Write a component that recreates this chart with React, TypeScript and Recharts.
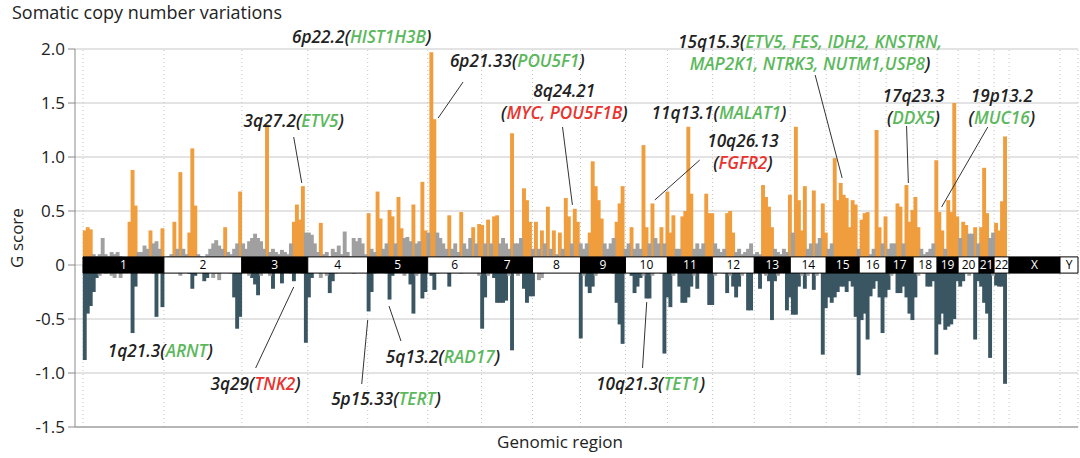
import React from 'react';
import {
  ComposedChart,
  Bar,
  XAxis,
  YAxis,
  CartesianGrid,
  ReferenceArea,
  ReferenceLine,
  ReferenceDot,
} from 'recharts';

// chromosomes and how many bins each one takes along the genomic axis
const chromosomes = ['1', '2', '3', '4', '5', '6', '7', '8', '9', '10', '11', '12', '13', '14', '15', '16', '17', '18', '19', '20', '21', '22', 'X', 'Y'];
const binsPerChromosome = [27, 26, 22, 20, 20, 18, 17, 16, 15, 14, 15, 14, 12, 12, 11, 9, 9, 8, 7, 7, 5, 5, 17, 6];

// amplification G scores per chromosome (X and Y have none)
const ampScores = [
  [0.32, 0.35, 0.33, 0.1, 0.08, 0.1, 0.25, 0.1, 0.08, 0.12, 0.1, 0.12, 0.08, 0.06, 0.05, 0.4, 0.88, 0.55, 0.12, 0.12, 0.18, 0.15, 0.32, 0.2, 0.22, 0.15, 0.34],
  [0.05, 0.08, 0.1, 0.4, 0.15, 0.86, 0.15, 0.1, 0.3, 1.08, 0.55, 0.1, 0.08, 0.05, 0.1, 0.15, 0.2, 0.23, 0.18, 0.15, 0.35, 0.12, 0.1, 0.15, 0.2, 0.68],
  [0.2, 0.15, 0.22, 0.25, 0.29, 0.25, 0.22, 0.15, 1.3, 0.12, 0.15, 0.12, 0.1, 0.14, 0.12, 0.1, 0.2, 0.4, 0.56, 0.42, 0.73, 0.3],
  [0.3, 0.28, 0.2, 0.12, 0.39, 0.1, 0.12, 0.08, 0.15, 0.12, 0.18, 0.1, 0.31, 0.12, 0.08, 0.25, 0.22, 0.25, 0.2, 0.1],
  [0.48, 0.15, 0.12, 0.68, 0.43, 0.15, 0.2, 0.51, 0.45, 0.2, 0.63, 0.34, 0.25, 0.26, 0.22, 0.56, 0.2, 0.22, 0.77, 0.32],
  [0.3, 1.97, 1.35, 0.3, 0.25, 0.2, 0.15, 0.46, 0.15, 0.2, 0.12, 0.49, 0.2, 0.15, 0.25, 0.35, 0.2, 0.38],
  [0.37, 0.2, 0.42, 0.2, 0.45, 0.46, 0.2, 0.25, 0.2, 0.15, 1.22, 0.2, 0.2, 0.25, 0.71, 0.6, 0.4],
  [0.15, 0.4, 0.15, 0.32, 0.2, 0.54, 0.15, 0.32, 0.1, 0.3, 0.15, 0.62, 0.45, 0.2, 0.52, 0.4],
  [0.2, 0.15, 0.2, 0.3, 0.96, 0.73, 0.6, 0.43, 0.2, 0.15, 0.2, 0.25, 0.4, 0.57, 0.73],
  [0.15, 0.2, 0.35, 0.15, 0.2, 0.15, 1.11, 0.35, 0.2, 0.57, 0.25, 0.2, 0.35, 0.2],
  [0.68, 0.3, 0.46, 0.15, 0.15, 0.45, 0.5, 1.28, 0.66, 0.15, 0.2, 0.15, 0.2, 0.66, 0.48],
  [0.48, 0.2, 0.15, 0.12, 0.15, 0.48, 0.5, 0.3, 0.12, 0.15, 0.1, 0.12, 0.15, 0.2],
  [0.1, 0.12, 0.1, 0.74, 0.63, 0.54, 0.35, 0.15, 0.12, 0.1, 0.15, 0.12],
  [0.65, 0.3, 1.28, 0.6, 0.32, 0.73, 0.15, 0.2, 0.69, 0.2, 0.25, 0.57],
  [0.3, 0.15, 0.2, 0.99, 0.6, 0.76, 0.65, 0.62, 0.35, 0.6, 0.56],
  [0.15, 0.42, 0.48, 0.49, 0.1, 0.15, 1.25, 0.35, 0.2],
  [0.45, 0.15, 0.2, 0.2, 0.57, 0.54, 0.2, 0.74, 0.4],
  [0.51, 0.63, 0.35, 0.15, 0.1, 0.12, 0.15, 0.2],
  [0.97, 0.49, 0.32, 0.15, 0.6, 0.49, 1.5],
  [0.45, 0.25, 0.4, 0.37, 0.29, 0.29, 0.35],
  [0.2, 0.35, 0.9, 0.48, 0.25],
  [0.3, 0.39, 0.32, 0.59, 1.19],
];

// 1 = significant amplification (orange), 0 = not significant (gray)
const ampSignificant = [
  '111000000000000111000010001',
  '00010100111000000000100001',
  '0000000010000000011110',
  '00001000000000000000',
  '10011001101100010011',
  '011000010001000101',
  '10101100001000111',
  '0101010101011011',
  '000111110000111',
  '00100011010010',
  '111001111000011',
  '10000111000000',
  '000111100000',
  '101111001001',
  '10011111111',
  '011100110',
  '100011011',
  '11100000',
  '1110111',
  '1011001',
  '01110',
  '01111',
];

// deletion G scores per chromosome
const delScores = [
  [-0.88, -0.45, -0.38, -0.25, -0.12, -0.1, -0.05, -0.08, -0.05, -0.1, -0.12, -0.05, -0.12, -0.05, -0.04, -0.05, -0.63, -0.2, -0.05, -0.04, -0.05, -0.06, -0.06, -0.08, -0.48, -0.08, -0.39],
  [-0.04, -0.05, -0.06, -0.05, -0.06, -0.1, -0.06, -0.05, -0.08, -0.22, -0.1, -0.05, -0.05, -0.15, -0.12, -0.05, -0.12, -0.08, -0.14, -0.06, -0.05, -0.06, -0.08, -0.3, -0.59, -0.48],
  [-0.05, -0.06, -0.1, -0.12, -0.18, -0.28, -0.1, -0.05, -0.06, -0.1, -0.22, -0.06, -0.05, -0.17, -0.06, -0.05, -0.08, -0.15, -0.06, -0.05, -0.08, -0.72],
  [-0.3, -0.12, -0.06, -0.05, -0.12, -0.06, -0.1, -0.26, -0.15, -0.08, -0.05, -0.04, -0.06, -0.04, -0.03, -0.08, -0.05, -0.04, -0.05, -0.06],
  [-0.43, -0.25, -0.08, -0.05, -0.06, -0.05, -0.08, -0.32, -0.1, -0.05, -0.06, -0.05, -0.1, -0.06, -0.18, -0.45, -0.1, -0.08, -0.31, -0.25],
  [-0.06, -0.1, -0.23, -0.08, -0.05, -0.04, -0.06, -0.2, -0.05, -0.04, -0.05, -0.08, -0.04, -0.05, -0.06, -0.05, -0.04, -0.1],
  [-0.59, -0.3, -0.1, -0.08, -0.12, -0.35, -0.35, -0.35, -0.33, -0.1, -0.79, -0.08, -0.1, -0.08, -0.22, -0.35, -0.29],
  [-0.29, -0.06, -0.14, -0.12, -0.05, -0.04, -0.05, -0.04, -0.03, -0.05, -0.04, -0.06, -0.05, -0.05, -0.05, -0.04],
  [-0.68, -0.1, -0.2, -0.26, -0.2, -0.1, -0.06, -0.05, -0.04, -0.05, -0.06, -0.08, -0.35, -0.55, -0.73],
  [-0.05, -0.06, -0.1, -0.26, -0.2, -0.12, -0.1, -0.31, -0.31, -0.1, -0.05, -0.06, -0.08, -0.82],
  [-0.3, -0.39, -0.1, -0.06, -0.2, -0.35, -0.35, -0.3, -0.2, -0.1, -0.22, -0.06, -0.05, -0.08, -0.37],
  [-0.37, -0.1, -0.06, -0.05, -0.08, -0.26, -0.1, -0.2, -0.3, -0.2, -0.1, -0.05, -0.42, -0.42],
  [-0.05, -0.06, -0.22, -0.08, -0.1, -0.15, -0.51, -0.15, -0.1, -0.05, -0.06, -0.42],
  [-0.3, -0.46, -0.46, -0.2, -0.1, -0.22, -0.1, -0.06, -0.23, -0.1, -0.06, -0.83],
  [-0.4, -0.3, -0.35, -0.3, -0.25, -0.2, -0.2, -0.25, -0.15, -0.2, -0.48],
  [-1.02, -0.51, -0.45, -0.69, -0.29, -0.22, -0.15, -0.3, -0.63],
  [-0.3, -0.23, -0.1, -0.08, -0.26, -0.26, -0.2, -0.3, -0.45],
  [-0.51, -0.3, -0.1, -0.06, -0.08, -0.2, -0.2, -0.15],
  [-0.83, -0.55, -0.45, -0.6, -0.57, -0.55, -0.5],
  [-0.15, -0.2, -0.15, -0.08, -0.1, -0.06, -0.69],
  [-0.15, -0.2, -0.35, -0.45, -0.86],
  [-0.1, -0.19, -0.2, -0.2, -1.1],
];

// 1 = significant deletion (dark), 0 = not significant (gray)
const delSignificant = [
  '111110000000000111000010101',
  '00000000111001100000000111',
  '0001110000100100010001',
  '11000001100000000000',
  '11000001100000110011',
  '011000010000000000',
  '11001111101000111',
  '1000000000000000',
  '101110000000111',
  '00111101100001',
  '110011111010001',
  '10000101110011',
  '001001110001',
  '111101001001',
  '11111111111',
  '111111111',
  '110011111',
  '11000111',
  '1111111',
  '1110001',
  '11111',
  '01111',
];

const yTicks = [-1.5, -1, -0.5, 0, 0.5, 1, 1.5, 2];

// peak annotations: position in bins / G score, text segments tagged k (black), g (green), r (red)
type Seg = [string, 'k' | 'g' | 'r'];
const annotations: { x: number; y: number; lines: Seg[][] }[] = [
  { x: 93.0, y: 2.056, lines: [[['6p22.2(', 'k'], ['HIST1H3B', 'g'], [')', 'k']]] },
  { x: 144.9, y: 1.833, lines: [[['6p21.33(', 'k'], ['POU5F1', 'g'], [')', 'k']]] },
  { x: 160.6, y: 1.556, lines: [[['8q24.21', 'k']], [['(', 'k'], ['MYC, POU5F1B', 'r'], [')', 'k']]] },
  { x: 212.2, y: 1.352, lines: [[['11q13.1(', 'k'], ['MALAT1', 'g'], [')', 'k']]] },
  { x: 220.2, y: 1.093, lines: [[['10q26.13', 'k']], [['(', 'k'], ['FGFR2', 'r'], [')', 'k']]] },
  { x: 70.3, y: 1.278, lines: [[['3q27.2(', 'k'], ['ETV5', 'g'], [')', 'k']]] },
  { x: 242.6, y: 2.009, lines: [[['15q15.3(', 'k'], ['ETV5, FES, IDH2, KNSTRN,', 'g']], [['MAP2K1, NTRK3, NUTM1,USP8', 'g'], [')', 'k']]] },
  { x: 277.1, y: 1.509, lines: [[['17q23.3', 'k']], [['(', 'k'], ['DDX5', 'g'], [')', 'k']]] },
  { x: 306.6, y: 1.509, lines: [[['19p13.2', 'k']], [['(', 'k'], ['MUC16', 'g'], [')', 'k']]] },
  { x: 25.8, y: -0.852, lines: [[['1q21.3(', 'k'], ['ARNT', 'g'], [')', 'k']]] },
  { x: 57.6, y: -1.157, lines: [[['3q29(', 'k'], ['TNK2', 'r'], [')', 'k']]] },
  { x: 120.1, y: -0.907, lines: [[['5q13.2(', 'k'], ['RAD17', 'g'], [')', 'k']]] },
  { x: 101.1, y: -1.296, lines: [[['5p15.33(', 'k'], ['TERT', 'g'], [')', 'k']]] },
  { x: 189.4, y: -1.157, lines: [[['10q21.3(', 'k'], ['TET1', 'g'], [')', 'k']]] },
];

// leader lines from label to peak: [x1, y1, x2, y2]
const leaders = [
  [126.8, 1.694, 118.5, 1.361],
  [160.0, 1.278, 163.3, 0.556],
  [205.8, 0.972, 190.8, 0.602],
  [70.3, 1.185, 73.0, 0.759],
  [244.3, 1.759, 253.3, 0.806],
  [274.8, 1.287, 275.4, 0.759],
  [301.9, 1.278, 286.5, 0.537],
  [57.6, -0.954, 70.3, -0.204],
  [106.1, -0.704, 102.1, -0.38],
  [93.0, -1.102, 95.0, -0.509],
  [186.7, -0.954, 188.1, -0.343],
];

const FONT = "'Open Sans', 'Noto Sans', sans-serif";
const ORANGE = '#f09d3e';
const GRAY = '#a0a0a0';
const SLATE = '#3a5662';
const segColor = { k: '#222222', g: '#5cb85c', r: '#e8332f' };

const totalBins = binsPerChromosome.reduce((a, b) => a + b, 0);

const starts: number[] = [];
binsPerChromosome.reduce((acc, n) => {
  starts.push(acc);
  return acc + n;
}, 0);

const rows: any[] = [];
chromosomes.forEach((c, ci) => {
  for (let k = 0; k < binsPerChromosome[ci]; k++) {
    const amp = ampScores[ci]?.[k] ?? 0;
    const del = delScores[ci]?.[k] ?? 0;
    const ampSig = ampSignificant[ci]?.[k] === '1';
    const delSig = delSignificant[ci]?.[k] === '1';
    rows.push({
      bin: rows.length,
      ampSig: ampSig ? amp : 0,
      ampNS: ampSig ? 0 : amp,
      delSig: delSig ? del : 0,
      delNS: delSig ? 0 : del,
    });
  }
});

const boundaries = [...starts, totalBins];

// bars a bit wider than the integer size recharts gives, so neighbours sit close like the original
const WideBar = (p: any) => {
  const { x, y, width, height, fill } = p;
  if (!height || !width) return null;
  const top = height < 0 ? y + height : y;
  return <rect x={x - 0.2} y={top} width={width + 0.9} height={Math.abs(height)} fill={fill} />;
};

function AnnotationLabel(props: any) {
  const { viewBox, lines } = props;
  if (!viewBox) return null;
  const x = viewBox.x + (viewBox.width || 0) / 2;
  const y = viewBox.y + (viewBox.height || 0) / 2;
  return (
    <g>
      {lines.map((line: Seg[], i: number) => (
        <text
          key={i}
          x={x}
          y={y + i * 22}
          textAnchor="middle"
          fontFamily={FONT}
          fontSize={17.2}
          fontStyle="italic"
          fontWeight={600}
        >
          {line.map(([t, c], j) => (
            <tspan key={j} fill={segColor[c]}>
              {t}
            </tspan>
          ))}
        </text>
      ))}
    </g>
  );
}

const fmt = (v: number) => (v === 0 ? '0' : v.toFixed(1));

const App: React.FC = () => {
  return (
    <div style={{ position: 'absolute', left: 0, top: 0, width: 1080, height: 458, background: '#fff', fontFamily: FONT }}>
      <div style={{ position: 'absolute', left: 12, top: 0, fontSize: 18, lineHeight: '24px', color: '#222' }}>
        Somatic copy number variations
      </div>
      <div
        style={{
          position: 'absolute',
          left: 16,
          top: 238,
          fontSize: 17,
          color: '#222',
          transform: 'translate(-50%, -50%) rotate(-90deg)',
          whiteSpace: 'nowrap',
        }}
      >
        G score
      </div>
      <div
        style={{
          position: 'absolute',
          left: 560,
          top: 441,
          fontSize: 17,
          color: '#222',
          transform: 'translate(-50%, -50%)',
          whiteSpace: 'nowrap',
        }}
      >
        Genomic region
      </div>

      <ComposedChart
        width={1080}
        height={458}
        data={rows}
        margin={{ top: 49, right: 2, bottom: 30, left: 0 }}
        stackOffset="sign"
        barCategoryGap={0}
      >
        <CartesianGrid xAxisId="bins" vertical={false} stroke="#dadada" strokeWidth={1.5} />
        <XAxis
          xAxisId="bins"
          dataKey="bin"
          height={1}
          tick={false}
          tickLine={false}
          axisLine={{ stroke: '#8a8a8a' }}
          padding={{ left: 8, right: 3 }}
        />
        <XAxis
          xAxisId="pos"
          type="number"
          domain={[0, totalBins]}
          allowDataOverflow
          hide
          padding={{ left: 8, right: 3 }}
        />
        <YAxis
          domain={[-1.5, 2]}
          ticks={yTicks}
          interval={0}
          allowDataOverflow
          width={75}
          tickSize={7}
          tickMargin={3}
          tickFormatter={fmt}
          tick={{ fontSize: 17, fill: '#222', fontFamily: FONT }}
          axisLine={{ stroke: '#8a8a8a' }}
          tickLine={{ stroke: '#8a8a8a' }}
        />

        {boundaries.map((b) => (
          <ReferenceLine
            key={`b${b}`}
            xAxisId="pos"
            x={b}
            stroke="#c4c4c4"
            strokeDasharray="1 3"
            ifOverflow="visible"
            zIndex={-90}
          />
        ))}

        <Bar xAxisId="bins" dataKey="ampSig" stackId="s" fill={ORANGE} shape={WideBar} isAnimationActive={false} />
        <Bar xAxisId="bins" dataKey="ampNS" stackId="s" fill={GRAY} shape={WideBar} isAnimationActive={false} />
        <Bar xAxisId="bins" dataKey="delSig" stackId="s" fill={SLATE} shape={WideBar} isAnimationActive={false} />
        <Bar xAxisId="bins" dataKey="delNS" stackId="s" fill={GRAY} shape={WideBar} isAnimationActive={false} />

        {chromosomes.map((c, i) => (
          <ReferenceArea
            key={`c${c}`}
            xAxisId="pos"
            x1={starts[i]}
            x2={starts[i] + binsPerChromosome[i]}
            y1={-0.075}
            y2={0.075}
            fill={i % 2 === 0 ? '#000' : '#fff'}
            fillOpacity={1}
            stroke="#000"
            strokeWidth={1}
            ifOverflow="visible"
            zIndex={700}
            label={{
              value: c,
              position: 'center',
              fill: i % 2 === 0 ? '#fff' : '#000',
              fontSize: 12,
              fontFamily: FONT,
            }}
          />
        ))}

        {leaders.map((l, i) => (
          <ReferenceLine
            key={`l${i}`}
            xAxisId="pos"
            segment={[
              { x: l[0], y: l[1] },
              { x: l[2], y: l[3] },
            ]}
            stroke="#333"
            strokeWidth={1}
            ifOverflow="visible"
            zIndex={800}
          />
        ))}

        {annotations.map((a, i) => (
          <ReferenceDot
            key={`a${i}`}
            xAxisId="pos"
            x={a.x}
            y={a.y}
            r={0}
            fill="none"
            stroke="none"
            ifOverflow="visible"
            zIndex={900}
            label={<AnnotationLabel lines={a.lines} />}
          />
        ))}
      </ComposedChart>
    </div>
  );
};

export default App;
